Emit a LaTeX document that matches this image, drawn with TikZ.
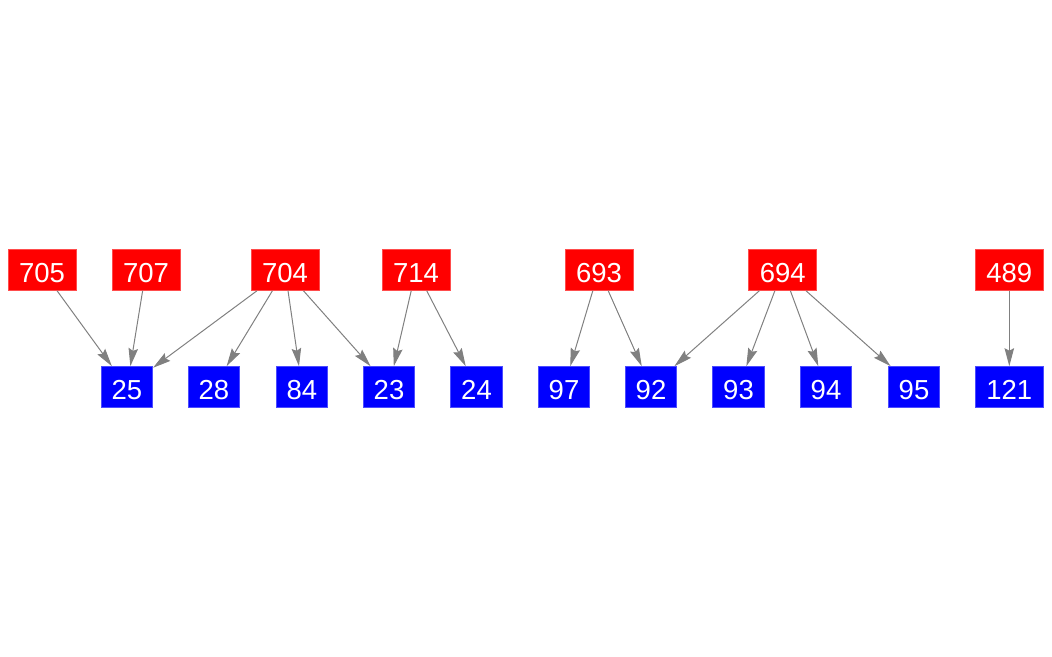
\documentclass[tikz,border=0pt]{standalone}
\usepackage{fontspec}
\setmainfont{Liberation Sans}
\usetikzlibrary{arrows.meta}
\begin{document}
\begin{tikzpicture}[x=1pt,y=-1pt,
  box/.style={line width=0.6pt,text=white,minimum height=41pt,inner sep=0pt,text height=25.4pt,text depth=0pt,font=\fontsize{27.5}{32}\selectfont},
  redbox/.style={box,fill=red,draw=red!70!white,minimum width=68pt},
  bluebox/.style={box,fill=blue,draw=blue!70!white,minimum width=51.5pt},
  edge/.style={draw=gray,line width=1pt,-{Stealth[length=18pt,width=9.5pt,inset=2.5pt]}}]
\useasboundingbox (0,0) rectangle (1052,656);
\node[redbox] (r705) at (42,270) {705};
\node[redbox] (r707) at (146,270) {707};
\node[redbox] (r704) at (285,270) {704};
\node[redbox] (r714) at (416,270) {714};
\node[redbox] (r693) at (599,270) {693};
\node[redbox] (r694) at (782.7,270) {694};
\node[redbox] (r489) at (1009.3,270) {489};
\node[bluebox] (b25) at (127,387) {25};
\node[bluebox] (b28) at (214,387) {28};
\node[bluebox] (b84) at (302,387) {84};
\node[bluebox] (b23) at (389,387) {23};
\node[bluebox] (b24) at (476.5,387) {24};
\node[bluebox] (b97) at (564,387) {97};
\node[bluebox] (b92) at (651,387) {92};
\node[bluebox] (b93) at (738.5,387) {93};
\node[bluebox] (b94) at (826,387) {94};
\node[bluebox] (b95) at (914,387) {95};
\node[bluebox,minimum width=68pt] (b121) at (1009.3,387) {121};
\draw[edge] (r705) -- (b25);
\draw[edge] (r707) -- (b25);
\draw[edge] (r704) -- (b25);
\draw[edge] (r704) -- (b28);
\draw[edge] (r704) -- (b84);
\draw[edge] (r704) -- (b23);
\draw[edge] (r714) -- (b23);
\draw[edge] (r714) -- (b24);
\draw[edge] (r693) -- (b97);
\draw[edge] (r693) -- (b92);
\draw[edge] (r694) -- (b92);
\draw[edge] (r694) -- (b93);
\draw[edge] (r694) -- (b94);
\draw[edge] (r694) -- (b95);
\draw[edge] (r489) -- (b121);
\end{tikzpicture}
\end{document}
